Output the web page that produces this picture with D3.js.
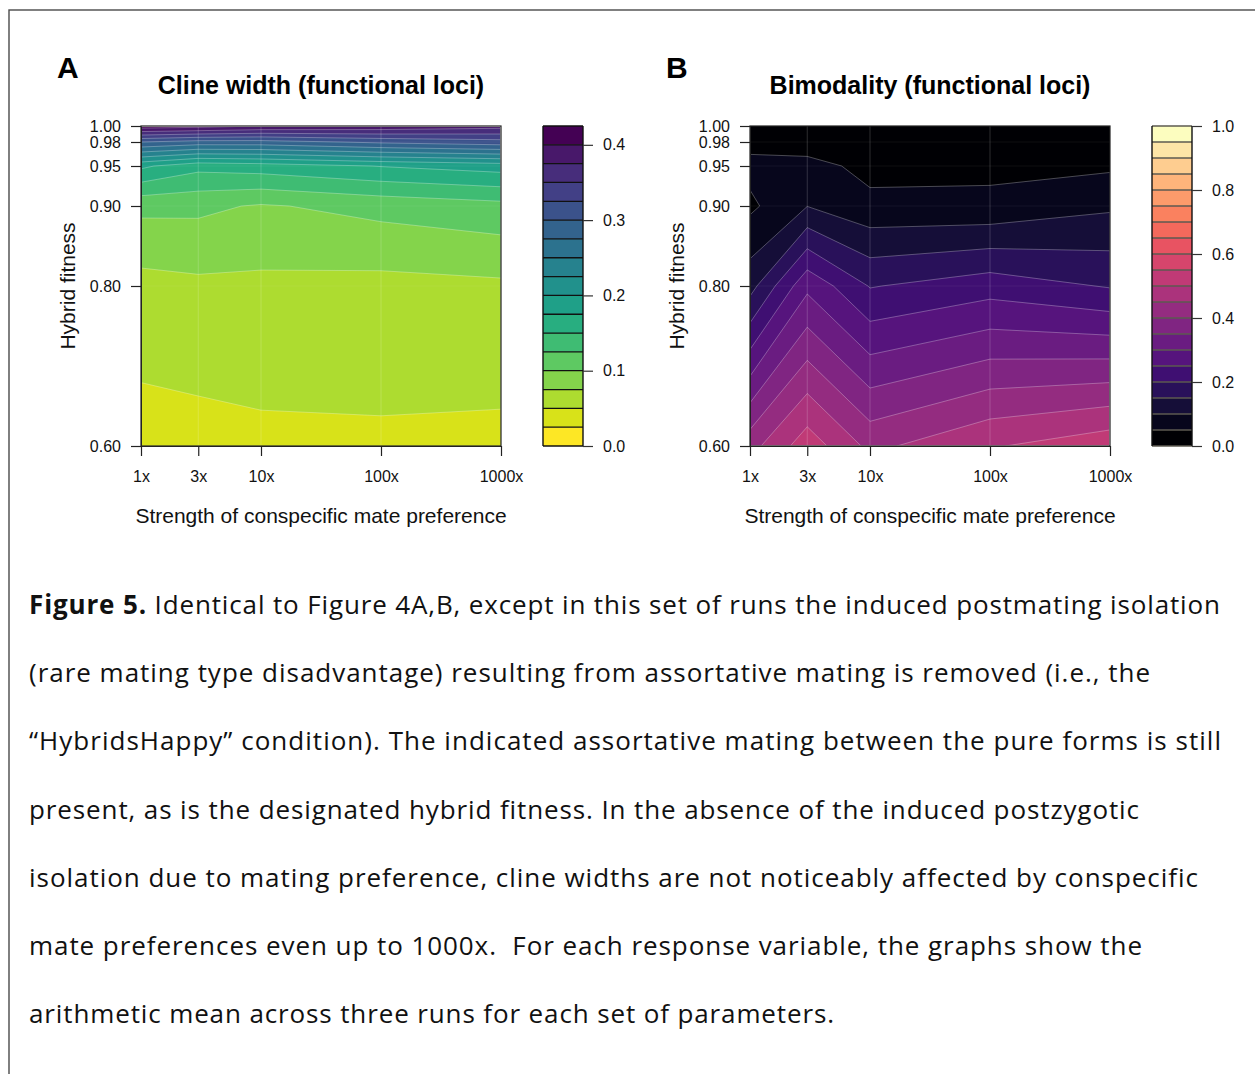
<!DOCTYPE html>
<html>
<head>
<meta charset="utf-8">
<script src="https://cdn.jsdelivr.net/npm/d3@7"></script>
<style>
  body { margin: 0; background: #fff; }
  svg { display: block; }
</style>
</head>
<body>
<svg id="fig" width="1255" height="1074"></svg>
<script>
// Grid of simulated parameter combinations
const matePref = [1, 3, 10, 100, 1000];
const matePrefLabels = ["1x", "3x", "10x", "100x", "1000x"];
const hybridFitness = [0.60, 0.80, 0.90, 0.95, 0.98, 1.00];
const fitnessTickLabels = ["0.60", "0.80", "0.90", "0.95", "0.98", "1.00"];

// Mean cline width; one row per hybrid fitness value, one column per mate preference
const clineWidth = [
  [0.0395, 0.0410, 0.0444, 0.0460, 0.0439],
  [0.0660, 0.0698, 0.0694, 0.0672, 0.0704],
  [0.1060, 0.1055, 0.0975, 0.1080, 0.1167],
  [0.1800, 0.1580, 0.1625, 0.1760, 0.1860],
  [0.3000, 0.2900, 0.2900, 0.3050, 0.3150],
  [0.4150, 0.4100, 0.4000, 0.3950, 0.3850]
];

// Mean bimodality; same layout
const bimodality = [
  [0.431, 0.529, 0.437, 0.495, 0.534],
  [0.131, 0.288, 0.197, 0.228, 0.196],
  [0.040, 0.099, 0.064, 0.0617, 0.0916],
  [0.065, 0.070, 0.0336, 0.039, 0.042],
  [0.034, 0.020, 0.020, 0.015, 0.015],
  [0.020, 0.010, 0.010, 0.010, 0.010]
];

const clineLevels = d3.range(18).map(i => +(i * 0.025).toFixed(3));
const bimodLevels = d3.range(21).map(i => +(i * 0.05).toFixed(2));
const clineTicks = [0, 0.1, 0.2, 0.3, 0.4];
const bimodTicks = [0, 0.2, 0.4, 0.6, 0.8, 1.0];

const panelTitles = ["Cline width (functional loci)", "Bimodality (functional loci)"];
const panelLetters = ["A", "B"];
const xTitle = "Strength of conspecific mate preference";
const yTitle = "Hybrid fitness";

const captionLines = [
  [["Figure 5.", true], [" Identical to Figure 4A,B, except in this set of runs the induced postmating isolation", false]],
  [["(rare mating type disadvantage) resulting from assortative mating is removed (i.e., the", false]],
  [["\u201CHybridsHappy\u201D condition). The indicated assortative mating between the pure forms is still", false]],
  [["present, as is the designated hybrid fitness. In the absence of the induced postzygotic", false]],
  [["isolation due to mating preference, cline widths are not noticeably affected by conspecific", false]],
  [["mate preferences even up to 1000x.\u00A0 For each response variable, the graphs show the", false]],
  [["arithmetic mean across three runs for each set of parameters.", false]]
];
const captionRight = [1220, 1150, 1221, 1139, 1198, 1142, 834];

const svg = d3.select("#fig");
const SANS = "'Liberation Sans', Arial, sans-serif";

// Figure frame
svg.append("rect")
  .attr("x", 9).attr("y", 10).attr("width", 1300).attr("height", 1100)
  .attr("fill", "none").attr("stroke", "#4a4a4a").attr("stroke-width", 1.4);

function drawPanel(opts) {
  const { left, top, w, h, values, levels, colors, barLeft, ticks, barSep, letterX, title } = opts;
  const g = svg.append("g");
  const x = d3.scaleLog().domain([1, 1000]).range([left, left + w]);
  const y = d3.scaleLinear().domain([0.6, 1.0]).range([top + h, top]);

  const nx = matePref.length, ny = hybridFitness.length;
  const px = matePref.map(d => x(d));
  const py = hybridFitness.map(d => y(d));
  const flat = values.flat();
  const gen = d3.contours().size([nx, ny]);

  // marching-squares coordinates -> screen, piecewise linear between grid nodes
  function along(c, arr) {
    const n = arr.length;
    const t = Math.max(0, Math.min(n - 1, c - 0.5));
    const i = Math.min(n - 2, Math.floor(t));
    const f = t - i;
    return arr[i] + (arr[i + 1] - arr[i]) * f;
  }
  function pathOf(geom) {
    let s = "";
    geom.coordinates.forEach(poly => poly.forEach(ring => {
      ring.forEach((p, k) => {
        s += (k ? "L" : "M") + along(p[0], px).toFixed(2) + "," + along(p[1], py).toFixed(2);
      });
      s += "Z";
    }));
    return s;
  }

  const bands = levels.slice(0, -1).map((lv, i) => ({ i, d: pathOf(gen.contour(flat, lv)) }));
  g.append("g").selectAll("path").data(bands).join("path")
    .attr("d", b => b.d).attr("fill", b => colors[b.i]).attr("fill-rule", "evenodd");

  // grid seams
  const seams = g.append("g").attr("stroke", "#fff").attr("stroke-width", 0.8);
  px.slice(1, -1).forEach(v => seams.append("line").attr("x1", v).attr("x2", v)
    .attr("y1", top).attr("y2", top + h).attr("stroke-opacity", 0.22));
  py.slice(1, -1).forEach(v => seams.append("line").attr("y1", v).attr("y2", v)
    .attr("x1", left).attr("x2", left + w).attr("stroke-opacity", 0.08));

  // contour boundaries
  g.append("g").selectAll("path").data(bands.slice(1)).join("path")
    .attr("d", b => b.d).attr("fill", "none").attr("stroke", "#fff")
    .attr("stroke-opacity", 0.4).attr("stroke-width", 0.7);

  g.append("rect").attr("x", left).attr("y", top).attr("width", w).attr("height", h)
    .attr("fill", "none").attr("stroke", "#222").attr("stroke-width", 1.2);

  // axes
  const ya = g.append("g").attr("transform", `translate(${left},0)`)
    .call(d3.axisLeft(y).tickValues(hybridFitness)
      .tickFormat((d, i) => fitnessTickLabels[i]).tickSize(10).tickSizeOuter(0).tickPadding(10));
  const xa = g.append("g").attr("transform", `translate(0,${top + h})`)
    .call(d3.axisBottom(x).tickValues(matePref)
      .tickFormat((d, i) => matePrefLabels[i]).tickSize(10).tickSizeOuter(0).tickPadding(15));
  [ya, xa].forEach(a => {
    a.select(".domain").attr("stroke", "#222");
    a.selectAll(".tick line").attr("stroke", "#222").attr("stroke-width", 1.2);
    a.selectAll("text").attr("font-family", SANS).attr("font-size", 16).attr("fill", "#111");
  });

  // colour key
  const c = d3.scaleLinear().domain([levels[0], levels[levels.length - 1]]).range([top + h, top]);
  const kw = 40;
  const key = g.append("g");
  key.selectAll("rect").data(levels.slice(0, -1)).join("rect")
    .attr("x", barLeft).attr("width", kw)
    .attr("y", (d, i) => c(levels[i + 1])).attr("height", (d, i) => c(levels[i]) - c(levels[i + 1]))
    .attr("fill", (d, i) => colors[i]);
  key.selectAll("line.sep").data(levels).join("line").attr("class", "sep")
    .attr("x1", barLeft).attr("x2", barLeft + kw)
    .attr("y1", d => c(d)).attr("y2", d => c(d))
    .attr("stroke", barSep).attr("stroke-width", 1.3);
  key.append("line").attr("x1", barLeft).attr("x2", barLeft).attr("y1", c.range()[0]).attr("y2", c.range()[1])
    .attr("stroke", "#111").attr("stroke-width", 1.4);
  key.append("line").attr("x1", barLeft + kw).attr("x2", barLeft + kw).attr("y1", c.range()[0]).attr("y2", c.range()[1])
    .attr("stroke", "#111").attr("stroke-width", 1.4);
  const ka = key.append("g").attr("transform", `translate(${barLeft + kw},0)`)
    .call(d3.axisRight(c).tickValues(ticks).tickFormat(d3.format(".1f")).tickSize(10).tickPadding(10));
  ka.select(".domain").remove();
  ka.selectAll(".tick line").attr("stroke", "#333").attr("stroke-width", 1.2);
  ka.selectAll("text").attr("font-family", SANS).attr("font-size", 16).attr("fill", "#111");

  // titles
  g.append("text").attr("x", letterX).attr("y", 78).text(opts.letter)
    .attr("font-family", SANS).attr("font-weight", "bold").attr("font-size", 30).attr("fill", "#000");
  g.append("text").attr("x", left + w / 2).attr("y", 94).attr("text-anchor", "middle").text(title)
    .attr("font-family", SANS).attr("font-weight", "bold").attr("font-size", 25).attr("fill", "#000");
  g.append("text").attr("x", left + w / 2).attr("y", 523).attr("text-anchor", "middle").text(xTitle)
    .attr("font-family", SANS).attr("font-size", 21).attr("fill", "#111");
  g.append("text").attr("transform", `translate(${left - 66},${top + h / 2}) rotate(-90)`)
    .attr("text-anchor", "middle").text(yTitle)
    .attr("font-family", SANS).attr("font-size", 21).attr("fill", "#111");
}

const clineColors = d3.range(clineLevels.length - 1).map(i => d3.interpolateViridis(1 - i / (clineLevels.length - 2)));
const bimodColors = d3.range(bimodLevels.length - 1).map(i => d3.interpolateMagma(i / (bimodLevels.length - 2)));

drawPanel({ left: 141, top: 126, w: 360, h: 320, values: clineWidth, levels: clineLevels,
  colors: clineColors, barLeft: 543, ticks: clineTicks, barSep: "#111",
  letterX: 57, letter: panelLetters[0], title: panelTitles[0] });
drawPanel({ left: 750, top: 126, w: 360, h: 320, values: bimodality, levels: bimodLevels,
  colors: bimodColors, barLeft: 1152, ticks: bimodTicks, barSep: "#5c5a50",
  letterX: 666, letter: panelLetters[1], title: panelTitles[1] });

// caption
const cap = svg.append("g").attr("font-family", "'Open Sans', 'Noto Sans', sans-serif").attr("font-size", 26).attr("fill", "#111");
captionLines.forEach((parts, k) => {
  const t = cap.append("text").attr("x", 29).attr("y", 614 + k * 68.2).attr("xml:space", "preserve");
  parts.forEach(([s, b]) => t.append("tspan").text(s).attr("font-weight", b ? "bold" : "normal"));
  if (captionRight[k] != null) {
    const natural = t.node().getComputedTextLength();
    const n = parts.map(p => p[0]).join("").length;
    t.attr("letter-spacing", ((captionRight[k] - 29 - natural) / (n - 1)).toFixed(3));
  }
});
</script>
</body>
</html>
